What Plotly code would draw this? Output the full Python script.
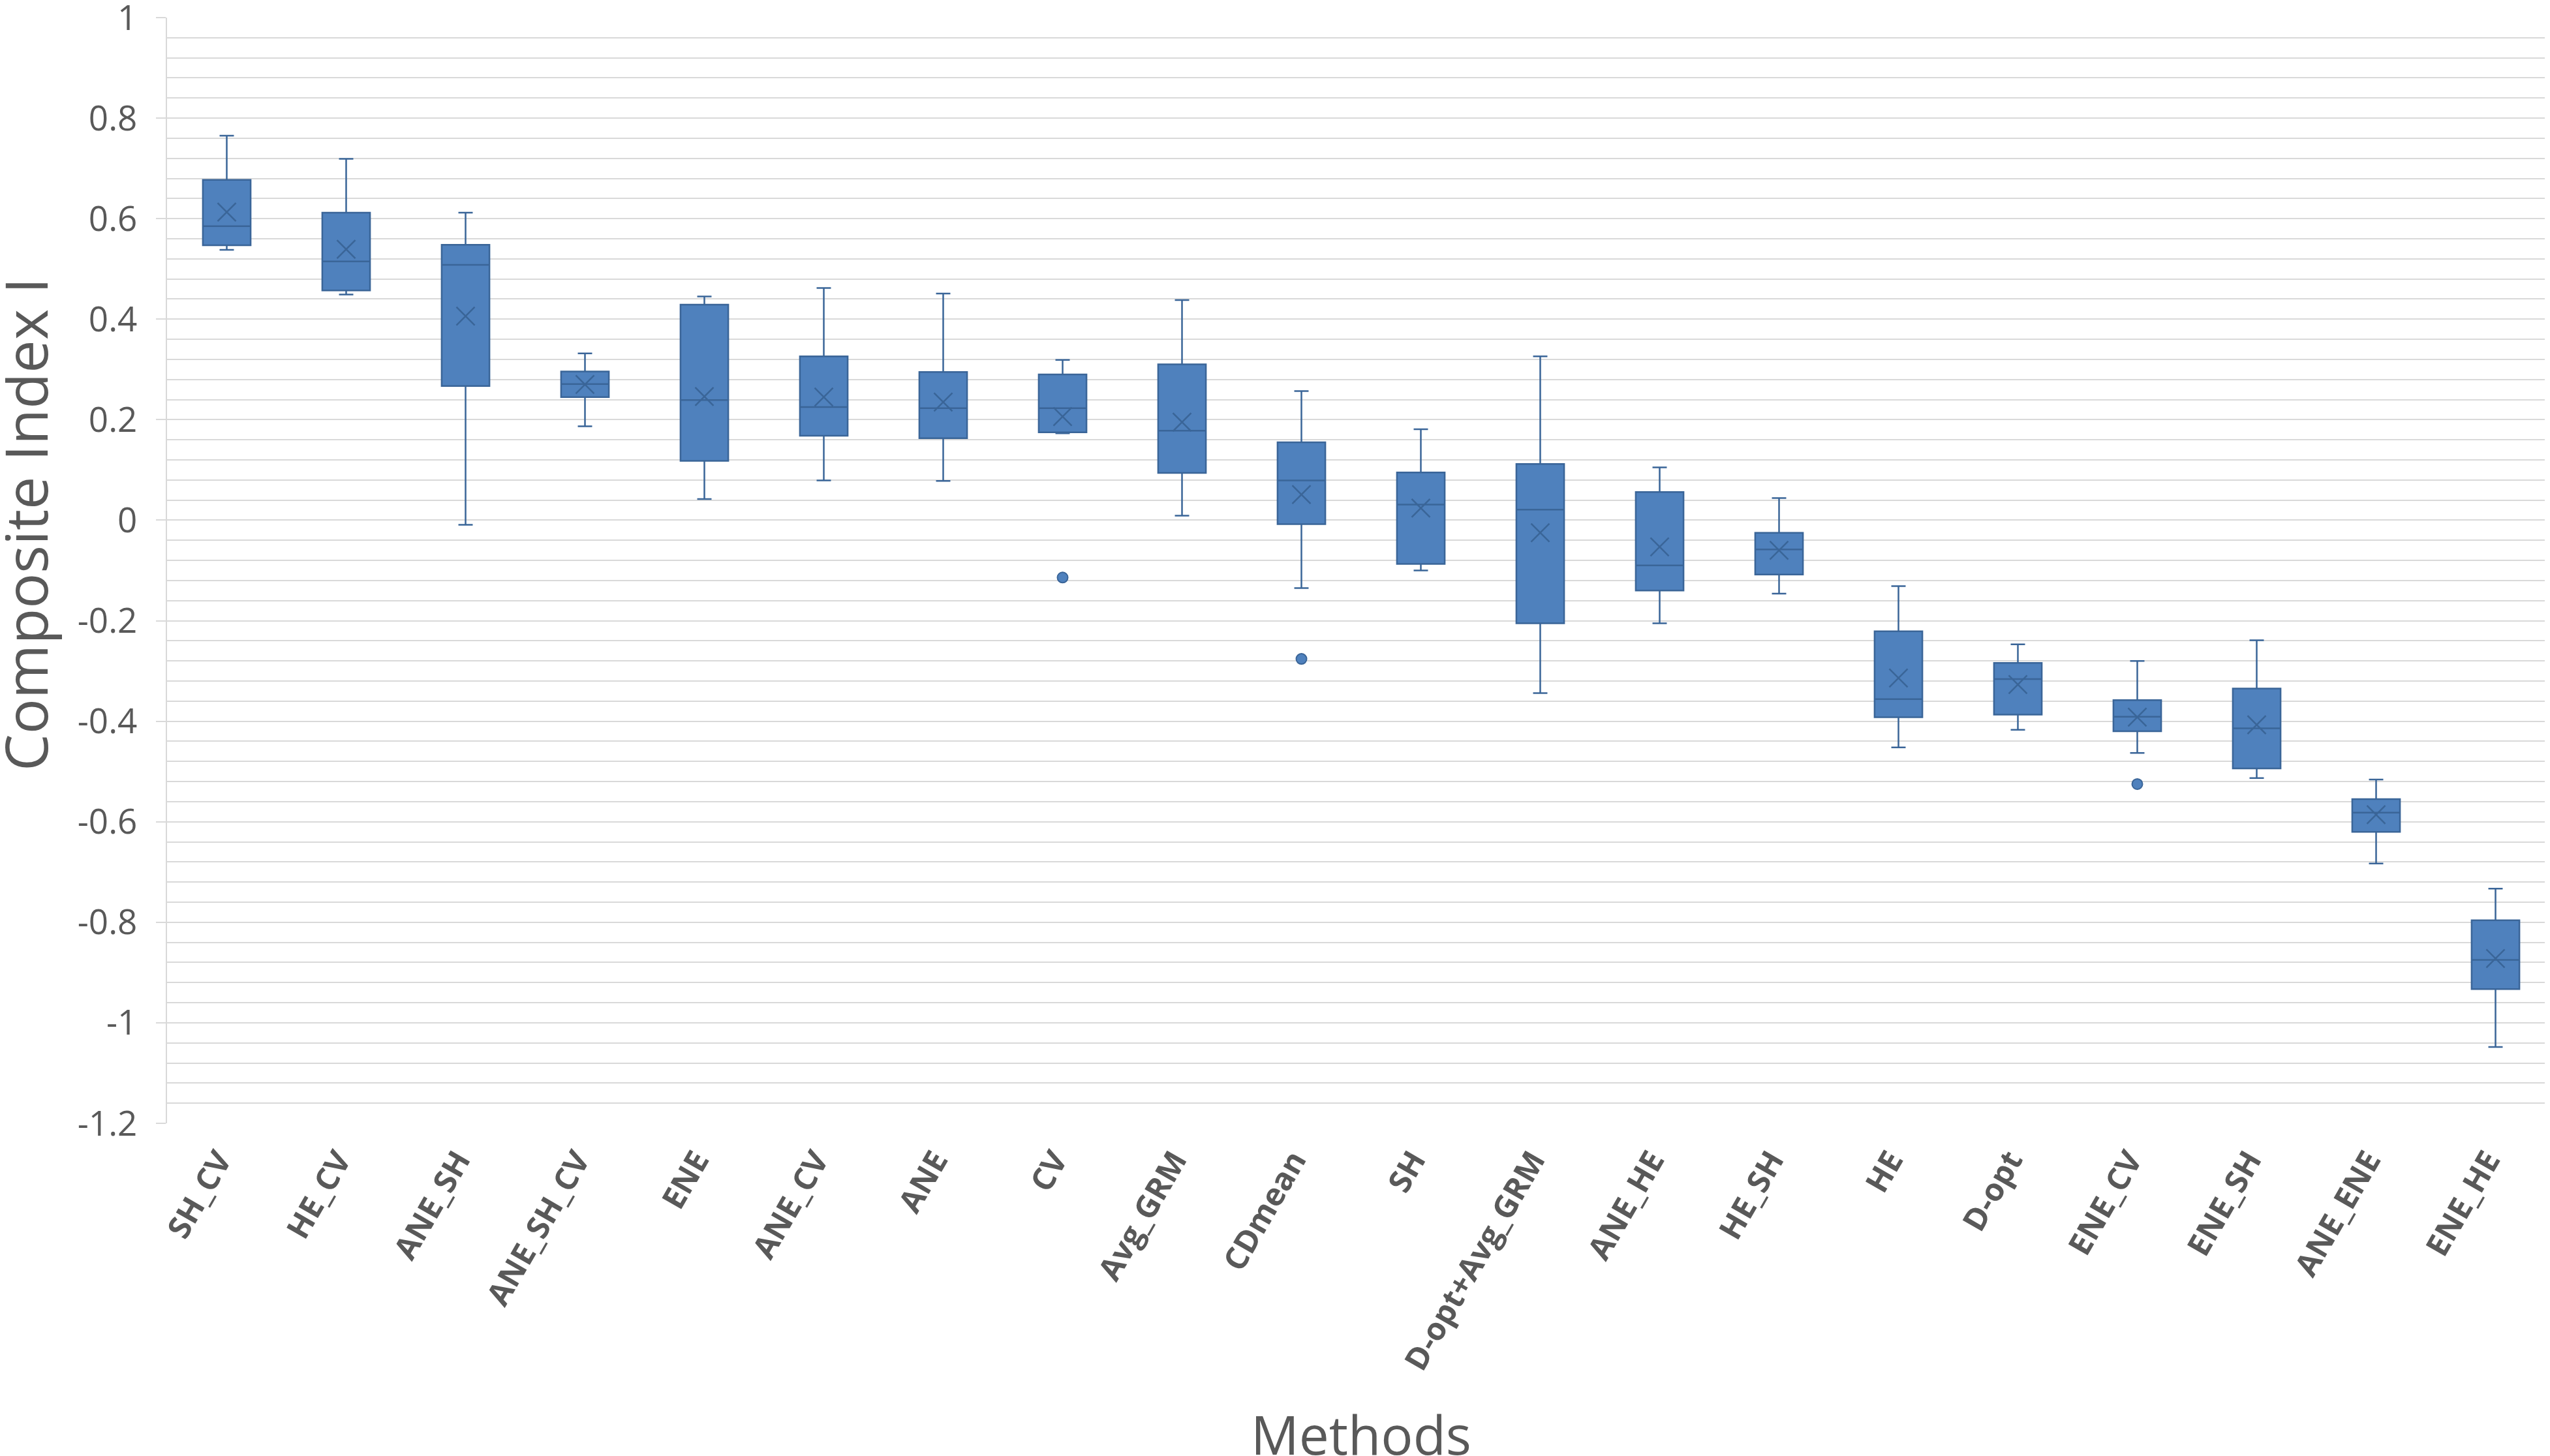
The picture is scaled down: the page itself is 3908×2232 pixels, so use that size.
import plotly.graph_objects as go

methods = ["SH_CV", "HE_CV", "ANE_SH", "ANE_SH_CV", "ENE", "ANE_CV", "ANE", "CV",
           "Avg_GRM", "CDmean", "SH", "D-opt+Avg_GRM", "ANE_HE", "HE_SH", "HE",
           "D-opt", "ENE_CV", "ENE_SH", "ANE_ENE", "ENE_HE"]
upper_whisker = [0.765, 0.719, 0.612, 0.332, 0.445, 0.462, 0.451, 0.319, 0.438, 0.257,
                 0.181, 0.326, 0.105, 0.044, -0.131, -0.247, -0.280, -0.239, -0.516, -0.733]
q3_values = [0.677, 0.612, 0.548, 0.296, 0.429, 0.326, 0.295, 0.290, 0.310, 0.155,
             0.095, 0.112, 0.056, -0.025, -0.221, -0.284, -0.358, -0.335, -0.555, -0.796]
median_values = [0.585, 0.515, 0.508, 0.271, 0.239, 0.225, 0.223, 0.223, 0.178, 0.079,
                 0.031, 0.021, -0.090, -0.058, -0.356, -0.316, -0.391, -0.414, -0.582, -0.875]
mean_values = [0.613, 0.539, 0.406, 0.270, 0.246, 0.245, 0.235, 0.206, 0.195, 0.051,
               0.024, -0.025, -0.053, -0.060, -0.314, -0.327, -0.392, -0.407, -0.586, -0.872]
q1_values = [0.547, 0.457, 0.267, 0.245, 0.118, 0.168, 0.163, 0.175, 0.094, -0.008,
             -0.087, -0.205, -0.140, -0.108, -0.392, -0.387, -0.420, -0.494, -0.620, -0.933]
lower_whisker = [0.538, 0.449, -0.009, 0.187, 0.042, 0.079, 0.078, 0.173, 0.009, -0.135,
                 -0.100, -0.344, -0.205, -0.146, -0.452, -0.417, -0.463, -0.513, -0.683, -1.048]
outlier_methods = ["CV", "CDmean", "ENE_CV"]
outlier_values = [-0.114, -0.276, -0.525]

y_tick_values = [1, 0.8, 0.6, 0.4, 0.2, 0, -0.2, -0.4, -0.6, -0.8, -1, -1.2]
y_tick_labels = ["1", "0.8", "0.6", "0.4", "0.2", "0", "-0.2", "-0.4", "-0.6", "-0.8", "-1", "-1.2"]

FILL = "#4F81BD"
EDGE = "#3A6598"
TEXT = "#595959"
GRID = "#D9D9D9"
FONT = "Open Sans"

W, H = 3908, 2232
L, R, T, B = 248, 0, 19, 518

fig = go.Figure()
fig.add_trace(go.Box(
    x=methods, q1=q1_values, median=median_values, q3=q3_values,
    lowerfence=lower_whisker, upperfence=upper_whisker,
    boxpoints=False, fillcolor=FILL, line=dict(color=EDGE, width=2.5),
    whiskerwidth=0.3, showlegend=False, hoverinfo="skip"))
fig.add_trace(go.Scatter(
    x=methods, y=mean_values, mode="markers", showlegend=False,
    marker=dict(symbol="x-thin", size=28, line=dict(color=EDGE, width=2.5))))
fig.add_trace(go.Scatter(
    x=outlier_methods, y=outlier_values, mode="markers", showlegend=False,
    marker=dict(symbol="circle", size=16, color=FILL, line=dict(color=EDGE, width=2))))

pw = W - L - R
ph = H - T - B
fig.add_annotation(text="Composite Index I", textangle=-90, showarrow=False,
                   xref="paper", yref="paper", x=(30 - L) / pw, y=(H - B - 796) / ph,
                   xanchor="center", yanchor="middle",
                   font=dict(family=FONT, size=90, color=TEXT))
fig.add_annotation(text="Methods", showarrow=False,
                   xref="paper", yref="paper", x=0.5, y=(H - B - 2190) / ph,
                   xanchor="center", yanchor="middle",
                   font=dict(family=FONT, size=82, color=TEXT))

fig.update_layout(
    width=W, height=H, margin=dict(l=L, r=R, t=T, b=B, autoexpand=False),
    paper_bgcolor="white", plot_bgcolor="white",
    boxgap=0.6, boxgroupgap=0, font=dict(family=FONT, color=TEXT),
    xaxis=dict(type="category", range=[-0.5, len(methods) - 0.5], automargin=False,
               showgrid=False, showline=False, ticks="",
               tickangle=-60, tickfont=dict(family=FONT, size=48, color=TEXT, weight="bold"),
               ticklabelstandoff=18, ticklabelshift=-12),
    yaxis=dict(range=[-1.2, 1], tickvals=y_tick_values, ticktext=y_tick_labels,
               automargin=False,
               showgrid=True, gridcolor=GRID, gridwidth=2, zeroline=False,
               showline=True, linecolor=GRID, linewidth=2,
               ticks="outside", ticklen=15, tickcolor=GRID, tickwidth=2,
               ticklabelstandoff=18, ticklabeloverflow="allow",
               tickfont=dict(family=FONT, size=53, color=TEXT),
               minor=dict(dtick=0.04, tick0=0, showgrid=True, gridcolor=GRID, gridwidth=2)),
)

fig.write_html("out.html")
